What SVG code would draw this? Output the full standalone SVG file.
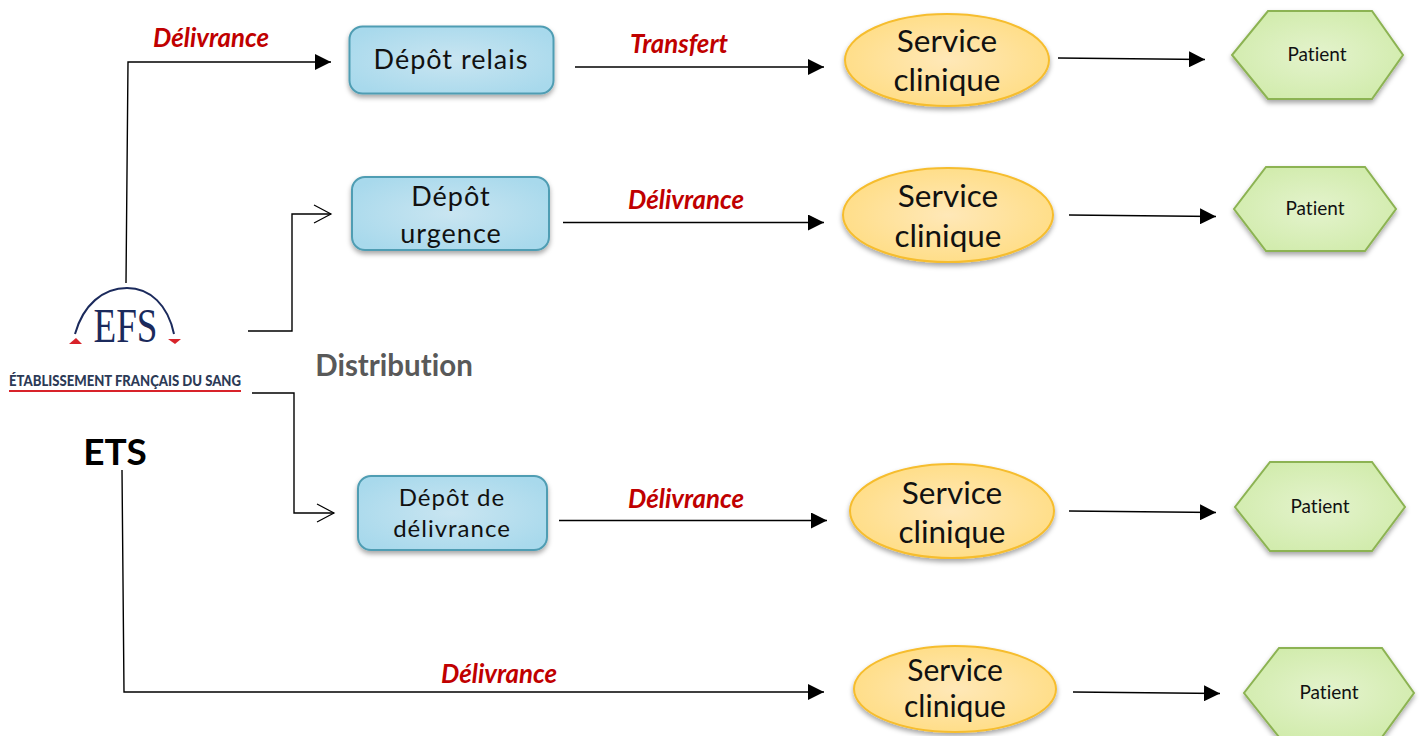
<svg xmlns="http://www.w3.org/2000/svg" width="1421" height="736" viewBox="0 0 1421 736">
<style>
.c{fill:none;stroke:#000;stroke-width:1.4}
.a{marker-end:url(#solid)}
.o{marker-end:url(#open)}
text{font-family:Lato,"Open Sans",sans-serif;text-anchor:middle;font-variant-ligatures:none}
.lab{font-style:italic;font-weight:700;font-size:25.800px;fill:#c00000}
.b{font-size:27px;fill:#111;letter-spacing:1px}
.s{font-size:31.500px;fill:#111}
.p{font-size:19px;fill:#111}
.dep{fill:url(#gb);stroke:#4f9db3;stroke-width:2;filter:url(#sh)}
.svc{fill:url(#gy);stroke:#f6bd2e;stroke-width:2;filter:url(#sh)}
.pat{fill:url(#gg);stroke:#8cb352;stroke-width:2;filter:url(#sh)}
</style>
<defs>
<marker id="solid" markerUnits="userSpaceOnUse" markerWidth="18" markerHeight="16" refX="16" refY="8" orient="auto"><path d="M0 0L16 8L0 16Z" fill="#000"/></marker>
<marker id="open" markerUnits="userSpaceOnUse" markerWidth="20" markerHeight="22" refX="18" refY="10" orient="auto"><path d="M1 1L18 10L1 19" fill="none" stroke="#000" stroke-width="1.2"/></marker>
<radialGradient id="gb" r="60%"><stop offset="0" stop-color="#c9e5f1"/><stop offset="1" stop-color="#a8d9ec"/></radialGradient>
<radialGradient id="gy" r="60%"><stop offset="0" stop-color="#ffe8b8"/><stop offset="1" stop-color="#ffdc80"/></radialGradient>
<radialGradient id="gg" r="60%"><stop offset="0" stop-color="#e4f3cd"/><stop offset="1" stop-color="#d0ebaa"/></radialGradient>
<filter id="sh" x="-10%" y="-15%" width="120%" height="135%"><feDropShadow dx="0" dy="3" stdDeviation="2.500" flood-color="#000" flood-opacity=".35"/></filter>
</defs>
<g id="connectors">
<path class="c a" d="M126 283L128 62H331"/>
<path class="c o" d="M248 331H292V214H331"/>
<path class="c o" d="M252 393H294V513H334"/>
<path class="c a" d="M122 470L124 692H824"/>
<path class="c a" d="M575 67H824"/>
<path class="c a" d="M563 222.500H824"/>
<path class="c a" d="M559 520.500H827"/>
<path class="c a" d="M1058 58L1205 59.500"/>
<path class="c a" d="M1069 215L1216 216.500"/>
<path class="c a" d="M1069 511L1216 512.500"/>
<path class="c a" d="M1073 692L1220 693.500"/>
</g>
<g id="edge-labels">
<text class="lab" x="211" y="47">Délivrance</text>
<text class="lab" x="679" y="53">Transfert</text>
<text class="lab" x="686" y="209">Délivrance</text>
<text class="lab" x="686" y="508">Délivrance</text>
<text class="lab" x="499" y="683">Délivrance</text>
</g>
<g id="efs">
<path d="M75 334C83 305 103 288 127 288C150 288 168 305 174 334" fill="none" stroke="#1b2a5c" stroke-width="2"/>
<path d="M69 344L76 338L82 344Z" fill="#d8232a"/>
<path d="M168 339H181L175 344Z" fill="#d8232a"/>
<text x="125.500" y="342" textLength="64" lengthAdjust="spacingAndGlyphs" style="font-family:'Liberation Serif',serif;font-size:48px;fill:#1b2a5c">EFS</text>
<text x="125" y="386" textLength="232" lengthAdjust="spacingAndGlyphs" style="font-size:14.500px;font-weight:900;fill:#2c3a56">ÉTABLISSEMENT FRANÇAIS DU SANG</text>
<rect x="9" y="390" width="232" height="2" fill="#d8232a"/>
</g>
<text x="115" y="465" id="ets" style="font-size:37px;font-weight:700;fill:#000">ETS</text>
<text x="394" y="376" id="distribution" style="font-size:29.500px;font-weight:700;fill:#595959">Distribution</text>
<g id="depot-relais"><rect class="dep" x="349.500" y="26.500" width="204" height="67" rx="13"/><text class="b" x="451" y="69">Dépôt relais</text></g>
<g id="depot-urgence"><rect class="dep" x="352" y="177" width="197" height="73" rx="13"/><text class="b" x="451" y="206">Dépôt</text><text class="b" x="451" y="243">urgence</text></g>
<g id="depot-delivrance"><rect class="dep" x="358" y="476" width="189" height="74" rx="13"/><text class="b" x="452" y="506" style="font-size:24px">Dépôt de</text><text class="b" x="452" y="537" style="font-size:24px">délivrance</text></g>
<g id="service-1"><ellipse class="svc" cx="947" cy="60" rx="102" ry="46"/><text class="s" x="947" y="52">Service</text><text class="s" x="947" y="91">clinique</text></g>
<g id="service-2"><ellipse class="svc" cx="948" cy="215" rx="105" ry="47"/><text class="s" x="948" y="207">Service</text><text class="s" x="948" y="247">clinique</text></g>
<g id="service-3"><ellipse class="svc" cx="952" cy="511" rx="102" ry="47"/><text class="s" x="952" y="504">Service</text><text class="s" x="952" y="543">clinique</text></g>
<g id="service-4"><ellipse class="svc" cx="955" cy="689" rx="101" ry="43"/><text class="s" x="955" y="681" style="font-size:30px">Service</text><text class="s" x="955" y="717" style="font-size:30px">clinique</text></g>
<g id="patient-1"><path class="pat" d="M1268 11H1372L1403 55L1372 99H1268L1232 55Z"/><text class="p" x="1317" y="61">Patient</text></g>
<g id="patient-2"><path class="pat" d="M1266 167H1365L1396 209L1365 251H1266L1234 209Z"/><text class="p" x="1315" y="215">Patient</text></g>
<g id="patient-3"><path class="pat" d="M1270 462H1372L1405 507L1372 551H1270L1235 507Z"/><text class="p" x="1320" y="513">Patient</text></g>
<g id="patient-4"><path class="pat" d="M1279 648H1382L1414 693L1382 737H1279L1244 693Z"/><text class="p" x="1329" y="699">Patient</text></g>
</svg>
